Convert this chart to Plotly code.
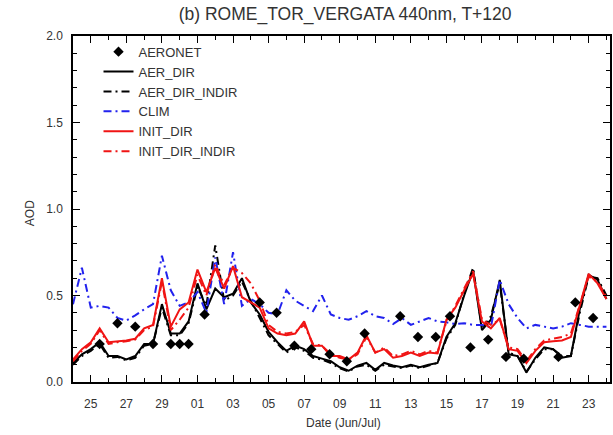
import numpy as np
import plotly.graph_objects as go

# Forecast valid times: days counted from 31 May (1 Jul = 31), every 12 h
model_days = np.arange(24.0, 54.01, 0.5)

aer_dir = [
    0.11, 0.16, 0.19, 0.23, 0.15, 0.15, 0.13, 0.15, 0.22, 0.22,
    0.45, 0.28, 0.28, 0.35, 0.57, 0.42, 0.54, 0.49, 0.51, 0.60,
    0.46, 0.39, 0.29, 0.23, 0.18, 0.21, 0.19, 0.15, 0.135, 0.12,
    0.085, 0.065, 0.095, 0.11, 0.07, 0.11, 0.095, 0.085, 0.10, 0.085,
    0.10, 0.11, 0.26, 0.34, 0.50, 0.645, 0.30, 0.36, 0.59, 0.16,
    0.15, 0.055, 0.14, 0.20, 0.19, 0.14, 0.15, 0.42, 0.62, 0.59,
    0.48,
]
aer_dir_indir = [
    0.10, 0.15, 0.18, 0.22, 0.14, 0.145, 0.125, 0.14, 0.21, 0.22,
    0.43, 0.27, 0.27, 0.34, 0.55, 0.44, 0.79, 0.47, 0.50, 0.58,
    0.47, 0.37, 0.27, 0.22, 0.17, 0.20, 0.18, 0.14, 0.13, 0.11,
    0.08, 0.06, 0.09, 0.10, 0.065, 0.10, 0.09, 0.08, 0.095, 0.08,
    0.095, 0.11, 0.25, 0.33, 0.51, 0.66, 0.31, 0.38, 0.57, 0.17,
    0.15, 0.06, 0.13, 0.19, 0.19, 0.15, 0.15, 0.40, 0.61, 0.60,
    0.50,
]
clim = [
    0.45, 0.66, 0.43, 0.44, 0.43, 0.37, 0.355, 0.385, 0.42, 0.45,
    0.73, 0.53, 0.44, 0.46, 0.52, 0.40, 0.72, 0.45, 0.75, 0.44,
    0.48, 0.45, 0.40, 0.39, 0.53, 0.47, 0.44, 0.41, 0.50, 0.39,
    0.37, 0.36, 0.38, 0.41, 0.38, 0.37, 0.335, 0.37, 0.33, 0.35,
    0.37, 0.35, 0.345, 0.335, 0.34, 0.33, 0.33, 0.315, 0.59, 0.45,
    0.37, 0.31, 0.33, 0.32, 0.31, 0.32, 0.34, 0.33, 0.32, 0.32,
    0.32,
]
init_dir = [
    0.13, 0.19, 0.23, 0.31, 0.23, 0.235, 0.24, 0.25, 0.31, 0.33,
    0.60, 0.32, 0.42, 0.46, 0.65, 0.52, 0.66, 0.54, 0.67, 0.49,
    0.46, 0.43, 0.31, 0.28, 0.27, 0.28, 0.35, 0.21, 0.21, 0.15,
    0.15, 0.13, 0.17, 0.27, 0.17, 0.19, 0.14, 0.15, 0.17, 0.15,
    0.17, 0.165, 0.36, 0.43, 0.53, 0.625, 0.35, 0.31, 0.37, 0.19,
    0.18, 0.11, 0.18, 0.23, 0.235, 0.24, 0.26, 0.44, 0.625, 0.57,
    0.48,
]
init_dir_indir = [
    0.12, 0.18, 0.22, 0.30, 0.22, 0.23, 0.235, 0.245, 0.30, 0.32,
    0.58, 0.30, 0.36, 0.43, 0.62, 0.50, 0.68, 0.56, 0.66, 0.63,
    0.57, 0.47, 0.33, 0.29, 0.28, 0.29, 0.33, 0.22, 0.21, 0.16,
    0.14, 0.13, 0.16, 0.26, 0.17, 0.20, 0.15, 0.16, 0.18, 0.16,
    0.18, 0.17, 0.35, 0.44, 0.54, 0.64, 0.36, 0.33, 0.36, 0.20,
    0.19, 0.12, 0.19, 0.24, 0.25, 0.26, 0.28, 0.45, 0.61, 0.58,
    0.49,
]

# AERONET sun-photometer observations
aeronet_days = [
    25.5, 26.5, 27.5, 28.5, 29.5, 30.0, 30.5, 31.4, 34.5, 35.45,
    36.45, 37.4, 38.43, 39.4, 40.4, 42.4, 43.4, 44.4, 45.2, 46.35,
    47.35, 48.35, 49.35, 51.3, 52.25, 53.25,
]
aeronet_aod = [
    0.22, 0.34, 0.32, 0.22, 0.22, 0.22, 0.22, 0.39, 0.46, 0.40,
    0.21, 0.19, 0.16, 0.12, 0.28, 0.38, 0.26, 0.26, 0.38, 0.20,
    0.245, 0.145, 0.135, 0.145, 0.46, 0.37,
]

tick_days = [25, 27, 29, 31, 33, 35, 37, 39, 41, 43, 45, 47, 49, 51, 53]
tick_labels = ["25", "27", "29", "01", "03", "05", "07", "09", "11",
               "13", "15", "17", "19", "21", "23"]

FONT = "Liberation Sans, Arial, Helvetica, sans-serif"
TXT = "#333333"
RED = "#f01414"
BLUE = "#2222ee"
DASHDOT = "8px,4px,2px,4px"

fig = go.Figure()

line_specs = [
    ("AER_DIR", aer_dir, "black", "solid", 2),
    ("AER_DIR_INDIR", aer_dir_indir, "black", DASHDOT, 3),
    ("CLIM", clim, BLUE, DASHDOT, 4),
    ("INIT_DIR", init_dir, RED, "solid", 5),
    ("INIT_DIR_INDIR", init_dir_indir, RED, DASHDOT, 6),
]
for name, vals, color, dash, rank in line_specs:
    fig.add_trace(go.Scatter(
        x=model_days, y=vals, name=name, mode="lines",
        line=dict(color=color, width=2, dash=dash),
        legendrank=rank,
    ))

fig.add_trace(go.Scatter(
    x=aeronet_days, y=aeronet_aod, name="AERONET", mode="markers",
    marker=dict(symbol="diamond", size=8, color="black"),
    legendrank=1,
))

axis_common = dict(
    showline=True, linecolor="black", linewidth=1.5, mirror="allticks",
    ticks="inside", ticklen=7, tickwidth=1.2, tickcolor="black",
    showgrid=False, zeroline=False,
    tickfont=dict(family=FONT, size=12, color=TXT),
)

fig.update_xaxes(
    range=[24, 54.2], tickmode="array", tickvals=tick_days, ticktext=tick_labels,
    ticklabelstandoff=10,
    minor=dict(dtick=1, tick0=24, ticks="inside", ticklen=4, tickwidth=1,
               tickcolor="black", showgrid=False),
    **axis_common,
)
fig.update_yaxes(
    range=[0, 2.0], dtick=0.5, tick0=0, tickformat=".1f",
    ticklabelstandoff=6,
    minor=dict(dtick=0.1, tick0=0, ticks="inside", ticklen=4, tickwidth=1,
               tickcolor="black", showgrid=False),
    **axis_common,
)

fig.update_layout(
    width=613, height=435,
    margin=dict(l=73, r=1, t=36, b=53),
    plot_bgcolor="white", paper_bgcolor="white",
    font=dict(family=FONT, color=TXT),
    title=dict(
        text="(b) ROME_TOR_VERGATA 440nm, T+120",
        x=0.563, xanchor="center", xref="container",
        y=0.968, yanchor="middle", yref="container",
        font=dict(family=FONT, size=17.5, color=TXT),
    ),
    legend=dict(
        x=0.0475, y=0.998, xanchor="left", yanchor="top",
        bgcolor="rgba(0,0,0,0)", borderwidth=0,
        font=dict(family=FONT, size=13, color=TXT),
        itemwidth=30, tracegroupgap=0,
    ),
    annotations=[
        dict(text="Date (Jun/Jul)", x=0.503, y=-0.118, xref="paper", yref="paper",
             xanchor="center", yanchor="middle", showarrow=False,
             font=dict(family=FONT, size=12, color=TXT)),
        dict(text="AOD", x=-0.08, y=0.488, xref="paper", yref="paper",
             xanchor="center", yanchor="middle", showarrow=False, textangle=-90,
             font=dict(family=FONT, size=12, color=TXT)),
    ],
)

fig.write_html("out.html")
